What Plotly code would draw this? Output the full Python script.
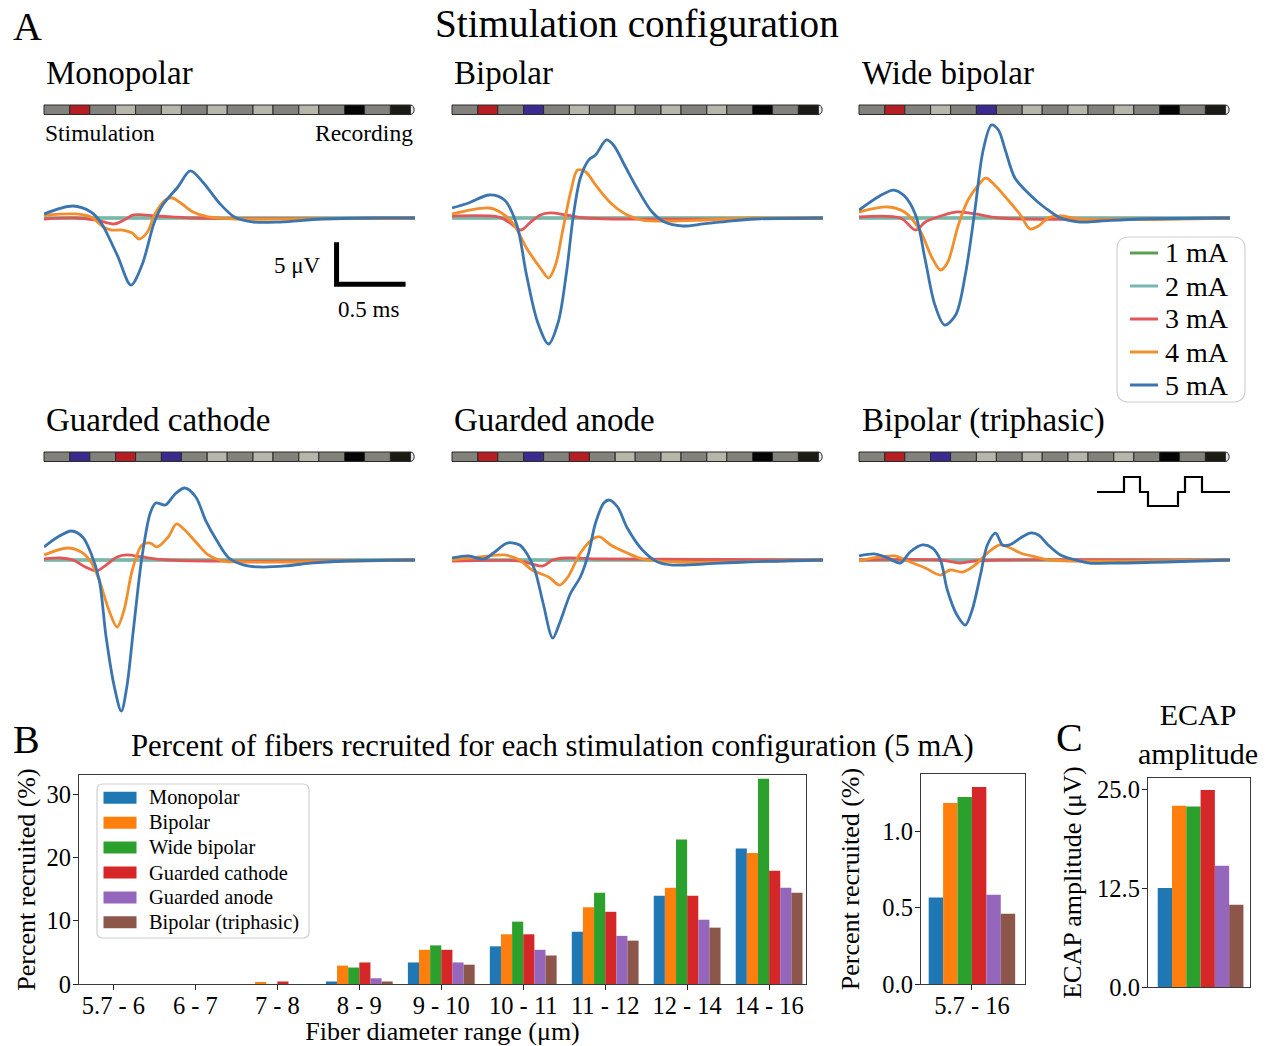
import plotly.graph_objects as go

W, H = 1270, 1046
FONT = "Liberation Serif"
INK = "#000000"

# ---------------- data ----------------
currents = ["1 mA", "2 mA", "3 mA", "4 mA", "5 mA"]
current_colors = ["#59a14f", "#76b7b2", "#e15759", "#f28e2b", "#3b75af"]

configs = ["Monopolar", "Bipolar", "Wide bipolar", "Guarded cathode", "Guarded anode", "Bipolar (triphasic)"]

# 1 mA and 2 mA produce no response (flat)
flat_t = [0.0, 2.69]
flat_v = [0.0, 0.0]

# time in ms, amplitude in uV
mono_3_t = [0.00, 0.23, 0.38, 0.51, 0.58, 0.65, 0.82, 1.08, 2.69]
mono_3_v = [-0.12, 0.00, -0.24, -0.71, -0.24, 0.36, 0.24, 0.00, 0.00]
mono_4_t = [0.00, 0.23, 0.34, 0.43, 0.49, 0.57, 0.64, 0.69, 0.75, 0.80, 0.88, 0.93, 0.99, 1.08, 1.19, 1.38, 1.82, 2.69]
mono_4_v = [0.36, 0.48, 0.12, -1.07, -1.43, -1.43, -1.79, -2.50, -1.67, 0.36, 2.14, 2.38, 1.79, 0.71, 0.12, -0.12, -0.12, 0.00]
mono_5_t = [0.00, 0.21, 0.34, 0.41, 0.53, 0.63, 0.71, 0.80, 0.86, 0.97, 1.06, 1.15, 1.27, 1.38, 1.52, 1.71, 2.01, 2.38, 2.69]
mono_5_v = [0.48, 1.43, 0.71, -0.48, -4.40, -7.98, -5.60, -0.48, 1.55, 3.69, 5.60, 4.29, 1.79, 0.12, -0.48, -0.48, -0.12, 0.00, 0.00]

bip_3_t = [0.00, 0.34, 0.41, 0.50, 0.57, 0.64, 0.71, 0.83, 0.97, 2.69]
bip_3_v = [0.24, 0.12, -0.48, -1.43, -0.48, 0.36, 0.60, 0.36, 0.00, 0.00]
bip_4_t = [0.00, 0.27, 0.36, 0.45, 0.54, 0.64, 0.70, 0.75, 0.80, 0.86, 0.91, 0.97, 1.04, 1.15, 1.27, 1.38, 1.57, 1.82, 2.19, 2.69]
bip_4_v = [0.48, 1.19, 0.60, -0.83, -3.57, -5.95, -7.14, -5.60, -1.67, 3.10, 5.71, 5.48, 3.93, 1.79, 0.36, -0.24, -0.36, -0.24, 0.00, 0.00]
bip_5_t = [0.00, 0.12, 0.27, 0.38, 0.47, 0.54, 0.62, 0.70, 0.77, 0.83, 0.88, 0.93, 0.99, 1.04, 1.12, 1.17, 1.25, 1.34, 1.45, 1.54, 1.67, 1.82, 2.01, 2.19, 2.69]
bip_5_v = [1.19, 1.79, 2.74, 2.14, -0.83, -6.79, -12.38, -15.00, -12.38, -6.43, 0.36, 4.76, 6.90, 7.50, 9.29, 8.69, 6.31, 3.57, 0.71, -0.48, -0.95, -0.71, -0.36, -0.12, 0.00]

wide_3_t = [0.00, 0.30, 0.41, 0.48, 0.55, 0.70, 0.84, 1.02, 2.69]
wide_3_v = [0.12, 0.00, -1.43, -0.48, 0.00, 0.71, 0.48, 0.00, 0.00]
wide_4_t = [0.00, 0.21, 0.33, 0.44, 0.53, 0.59, 0.64, 0.72, 0.79, 0.86, 0.92, 0.99, 1.08, 1.17, 1.24, 1.30, 1.37, 1.46, 1.60, 2.69]
wide_4_v = [0.71, 1.31, 0.71, -1.43, -4.76, -6.19, -5.36, -0.83, 2.14, 3.81, 4.76, 3.81, 2.14, 0.36, -1.31, -0.95, 0.00, 0.24, -0.12, 0.00]
wide_5_t = [0.00, 0.15, 0.25, 0.33, 0.41, 0.48, 0.55, 0.62, 0.70, 0.77, 0.84, 0.90, 0.96, 1.01, 1.06, 1.13, 1.24, 1.35, 1.46, 1.60, 1.75, 2.04, 2.69]
wide_5_v = [0.95, 2.62, 3.33, 2.62, 0.36, -5.00, -10.36, -12.74, -11.55, -6.79, 0.95, 8.10, 11.07, 10.48, 8.10, 4.76, 2.74, 1.19, 0.00, -0.48, -0.36, -0.12, 0.00]

gc_3_t = [0.00, 0.12, 0.21, 0.30, 0.38, 0.45, 0.53, 0.60, 0.71, 0.90, 2.69]
gc_3_v = [0.12, 0.24, 0.00, -0.83, -1.31, -0.60, 0.36, 0.60, 0.36, 0.00, 0.00]
gc_4_t = [0.00, 0.17, 0.27, 0.34, 0.40, 0.47, 0.53, 0.58, 0.64, 0.71, 0.77, 0.82, 0.90, 0.96, 1.02, 1.10, 1.19, 1.30, 1.45, 1.82, 2.69]
gc_4_v = [0.60, 1.43, 0.95, -0.24, -2.38, -5.95, -7.98, -5.95, -1.19, 1.79, 2.02, 1.55, 2.74, 4.29, 3.57, 2.14, 0.60, -0.12, -0.24, -0.24, 0.00]
gc_5_t = [0.00, 0.10, 0.20, 0.28, 0.34, 0.40, 0.45, 0.51, 0.56, 0.60, 0.65, 0.71, 0.77, 0.81, 0.88, 0.95, 1.02, 1.10, 1.17, 1.25, 1.34, 1.45, 1.56, 1.75, 1.93, 2.19, 2.69]
gc_5_v = [1.55, 2.74, 3.45, 2.74, 0.83, -2.38, -9.17, -15.12, -17.98, -15.12, -7.98, 0.36, 5.60, 6.79, 6.55, 7.86, 8.57, 7.50, 4.76, 2.38, 0.24, -0.60, -0.83, -0.71, -0.36, -0.12, 0.00]

ga_3_t = [0.00, 0.49, 0.58, 0.66, 0.73, 0.83, 1.08, 2.69]
ga_3_v = [-0.12, -0.12, -0.48, -0.71, 0.00, 0.24, 0.12, 0.00]
ga_4_t = [0.00, 0.20, 0.38, 0.49, 0.58, 0.70, 0.78, 0.84, 0.93, 1.03, 1.07, 1.15, 1.27, 1.38, 1.64, 2.69]
ga_4_v = [0.00, 0.36, 0.60, 0.00, -1.19, -2.02, -2.98, -2.02, 0.83, 2.62, 2.74, 1.79, 0.83, 0.12, -0.24, 0.00]
ga_5_t = [0.00, 0.12, 0.23, 0.30, 0.40, 0.49, 0.54, 0.60, 0.66, 0.73, 0.78, 0.86, 0.93, 0.99, 1.04, 1.10, 1.14, 1.20, 1.27, 1.38, 1.49, 1.60, 1.82, 2.12, 2.69]
ga_5_v = [0.24, 0.48, 0.12, 0.83, 2.02, 1.79, 0.83, -1.19, -5.12, -9.29, -7.50, -3.93, -2.02, 0.83, 4.40, 6.79, 7.14, 6.31, 3.81, 1.19, -0.24, -0.60, -0.48, -0.24, 0.00]

tri_3_t = [0.00, 0.59, 0.73, 0.84, 1.02, 2.69]
tri_3_v = [0.00, 0.00, -0.36, -0.12, 0.00, 0.00]
tri_4_t = [0.00, 0.15, 0.26, 0.37, 0.48, 0.59, 0.66, 0.75, 0.84, 0.93, 1.02, 1.08, 1.17, 1.28, 1.38, 2.69]
tri_4_v = [-0.12, 0.36, 0.48, -0.24, -0.95, -1.79, -1.19, -1.43, -0.60, 0.83, 1.79, 1.55, 0.83, 0.36, 0.00, 0.00]
tri_5_t = [0.00, 0.12, 0.21, 0.30, 0.37, 0.46, 0.53, 0.59, 0.64, 0.71, 0.77, 0.82, 0.88, 0.93, 0.99, 1.04, 1.09, 1.17, 1.24, 1.30, 1.37, 1.46, 1.57, 1.67, 1.89, 2.69]
tri_5_v = [0.48, 0.71, 0.24, -0.36, 0.95, 1.79, 1.43, 0.00, -3.57, -6.55, -7.74, -5.95, -1.79, 1.79, 3.21, 1.79, 1.79, 2.62, 3.21, 2.98, 1.79, 0.60, 0.00, -0.36, -0.36, 0.00]

# scale bar lengths
scale_ms = 0.5
scale_uv = 5.0

# Panel B: percent recruited per fiber diameter range (5 mA)
diam_ranges = ["5.7 - 6", "6 - 7", "7 - 8", "8 - 9", "9 - 10", "10 - 11", "11 - 12", "12 - 14", "14 - 16"]
pct_monopolar = [0, 0, 0, 0.4, 3.4, 5.95, 8.25, 13.95, 21.4]
pct_bipolar = [0, 0, 0.2, 2.9, 5.4, 7.85, 12.1, 15.2, 20.7]
pct_wide = [0, 0, 0, 2.6, 6.1, 9.85, 14.4, 22.8, 32.4]
pct_gcath = [0, 0, 0.4, 3.4, 5.4, 7.85, 11.4, 13.95, 17.9]
pct_ganode = [0, 0, 0, 0.9, 3.4, 5.4, 7.6, 10.15, 15.2]
pct_triph = [0, 0, 0, 0.4, 3.05, 4.5, 6.85, 8.9, 14.4]

total_label = ["5.7 - 16"]
pct_total = [0.569, 1.189, 1.229, 1.295, 0.587, 0.462]

# Panel C: ECAP amplitude (uV)
ecap_amp = [12.5, 22.9, 22.8, 24.9, 15.3, 10.4]

bar_colors = ["#1f77b4", "#ff7f0e", "#2ca02c", "#d62728", "#9467bd", "#8c564b"]

# electrode contact roles per configuration (contact index -> role)
roles_mono = {0: "cathode"}
roles_bip = {0: "cathode", 1: "anode"}
roles_wide = {0: "cathode", 2: "anode"}
roles_gc = {0: "anode", 1: "cathode", 2: "anode"}
roles_ga = {0: "cathode", 1: "anode", 2: "cathode"}
roles_tri = {0: "cathode", 1: "anode"}

# ---------------- figure ----------------
def X(p):
    return p / W


def Y(p):
    return 1 - p / H


waves = {
    "Monopolar": [(mono_3_t, mono_3_v), (mono_4_t, mono_4_v), (mono_5_t, mono_5_v)],
    "Bipolar": [(bip_3_t, bip_3_v), (bip_4_t, bip_4_v), (bip_5_t, bip_5_v)],
    "Wide bipolar": [(wide_3_t, wide_3_v), (wide_4_t, wide_4_v), (wide_5_t, wide_5_v)],
    "Guarded cathode": [(gc_3_t, gc_3_v), (gc_4_t, gc_4_v), (gc_5_t, gc_5_v)],
    "Guarded anode": [(ga_3_t, ga_3_v), (ga_4_t, ga_4_v), (ga_5_t, ga_5_v)],
    "Bipolar (triphasic)": [(tri_3_t, tri_3_v), (tri_4_t, tri_4_v), (tri_5_t, tri_5_v)],
}
roles = [roles_mono, roles_bip, roles_wide, roles_gc, roles_ga, roles_tri]

MS_PX = 138.0
UV_PX = 8.4
col_px = [(44, 415), (452, 823), (859, 1230)]
row_px = [(118, 352, 218), (470, 720, 560)]

fig = go.Figure()
layout = dict(
    width=W, height=H, margin=dict(l=0, r=0, t=0, b=0),
    paper_bgcolor="white", plot_bgcolor="rgba(0,0,0,0)",
    font=dict(family=FONT, color=INK, size=24),
    barmode="group", bargap=0.185, bargroupgap=0,
    hovermode=False, showlegend=False,
)

for i, cfg in enumerate(configs):
    r, c = divmod(i, 3)
    n = i + 1
    sfx = "" if n == 1 else str(n)
    x0, x1 = col_px[c]
    ytop, ybot, base = row_px[r]
    layout["xaxis" + sfx] = dict(domain=[X(x0), X(x1)], range=[0, (x1 - x0) / MS_PX],
                                 visible=False, anchor="y" + sfx)
    layout["yaxis" + sfx] = dict(domain=[Y(ybot), Y(ytop)],
                                 range=[-(ybot - base) / UV_PX, (base - ytop) / UV_PX],
                                 visible=False, anchor="x" + sfx)
    for k, cur in enumerate(currents):
        if k < 2:
            t, v = flat_t, flat_v
        else:
            t, v = waves[cfg][k - 2]
        fig.add_trace(go.Scatter(
            x=t, y=v, mode="lines", name=cur,
            line=dict(color=current_colors[k], width=2.8, shape="spline", smoothing=0.9),
            xaxis="x" + sfx, yaxis="y" + sfx,
        ))

# scale bar in the monopolar panel (data units)
sb_t0 = 2.12
sb_v0 = -7.9
fig.add_trace(go.Scatter(
    x=[sb_t0 + scale_ms, sb_t0, sb_t0], y=[sb_v0, sb_v0, sb_v0 + scale_uv],
    mode="lines", line=dict(color="black", width=5),
    xaxis="x", yaxis="y",
))

TF = dict(size=24.5, family=FONT, color=INK)
axis_common = dict(showgrid=False, zeroline=False, showline=True, mirror=True,
                   linecolor="#3a3a3a", linewidth=1.3, ticks="outside", ticklen=5,
                   tickwidth=1.3, tickcolor="#222", tickfont=TF, automargin=False)

# Panel B main
layout["xaxis7"] = dict(axis_common, domain=[X(79), X(806)], range=[-0.42, 8.45], anchor="y7",
                        type="category", ticklabelstandoff=-6,
                        title=dict(text="Fiber diameter range (μm)", font=dict(size=26, family=FONT, color=INK), standoff=9))
layout["yaxis7"] = dict(axis_common, domain=[Y(984), Y(775)], range=[0, 33.0], anchor="x7",
                        tickvals=[0, 10, 20, 30], ticklabelstandoff=-3,
                        title=dict(text="Percent recruited (%)", font=dict(size=26, family=FONT, color=INK), standoff=3))
# Panel B inset
layout["xaxis8"] = dict(axis_common, domain=[X(921), X(1025)], range=[-0.48, 0.5], anchor="y8",
                        type="category", ticklabelstandoff=-6)
layout["yaxis8"] = dict(axis_common, domain=[Y(984), Y(774)], range=[0, 1.38], anchor="x8",
                        tickvals=[0, 0.5, 1.0], ticktext=["0.0", "0.5", "1.0"], ticklabelstandoff=-3,
                        title=dict(text="Percent recruited (%)", font=dict(size=26, family=FONT, color=INK), standoff=15))
# Panel C
layout["xaxis9"] = dict(axis_common, domain=[X(1148), X(1250)], range=[-0.5, 0.47], anchor="y9",
                        type="category", ticks="", showticklabels=False)
layout["yaxis9"] = dict(axis_common, domain=[Y(987), Y(778)], range=[0, 26.4], anchor="x9",
                        tickvals=[0, 12.5, 25], ticktext=["0.0", "12.5", "25.0"], ticklabelstandoff=-3,
                        title=dict(text="ECAP amplitude (μV)", font=dict(size=26, family=FONT, color=INK), standoff=7))

pct_all = [pct_monopolar, pct_bipolar, pct_wide, pct_gcath, pct_ganode, pct_triph]
for j, cfg in enumerate(configs):
    fig.add_trace(go.Bar(x=diam_ranges, y=pct_all[j], name=cfg, marker=dict(color=bar_colors[j], line=dict(width=0)),
                         xaxis="x7", yaxis="y7"))
for j, cfg in enumerate(configs):
    fig.add_trace(go.Bar(x=total_label, y=[pct_total[j]], name=cfg, marker=dict(color=bar_colors[j], line=dict(width=0)),
                         xaxis="x8", yaxis="y8"))
for j, cfg in enumerate(configs):
    fig.add_trace(go.Bar(x=["ECAP"], y=[ecap_amp[j]], name=cfg, marker=dict(color=bar_colors[j], line=dict(width=0)),
                         xaxis="x9", yaxis="y9"))

# ---------------- shapes ----------------
shapes = []
anns = []


def ann(text, x, y, size, xanchor="left", yanchor="middle"):
    anns.append(dict(text=text, x=X(x), y=Y(y), xref="paper", yref="paper", showarrow=False,
                     xanchor=xanchor, yanchor=yanchor, font=dict(size=size, family=FONT, color=INK)))


def rounded_box(x0, y0, x1, y1, rad, line_color):
    pts = (f"M{X(x0 + rad)},{Y(y0)} L{X(x1 - rad)},{Y(y0)} Q{X(x1)},{Y(y0)} {X(x1)},{Y(y0 + rad)} "
           f"L{X(x1)},{Y(y1 - rad)} Q{X(x1)},{Y(y1)} {X(x1 - rad)},{Y(y1)} "
           f"L{X(x0 + rad)},{Y(y1)} Q{X(x0)},{Y(y1)} {X(x0)},{Y(y1 - rad)} "
           f"L{X(x0)},{Y(y0 + rad)} Q{X(x0)},{Y(y0)} {X(x0 + rad)},{Y(y0)} Z")
    return dict(type="path", path=pts, xref="paper", yref="paper", layer="above",
                fillcolor="rgba(255,255,255,0.85)", line=dict(color=line_color, width=1.2))


# legend for panel A (current amplitudes)
shapes.append(rounded_box(1117, 237, 1245, 402, 12, "#d0d0d0"))
for k, cur in enumerate(currents):
    yy = 253 + 33 * k
    shapes.append(dict(type="line", xref="paper", yref="paper", layer="above",
                       x0=X(1130), x1=X(1158), y0=Y(yy), y1=Y(yy),
                       line=dict(color=current_colors[k], width=3)))
    ann(cur, 1163, yy, 28)

# legend for panel B (configurations)
shapes.append(rounded_box(97, 784, 309, 938, 6, "#d0d0d0"))
for j, cfg in enumerate(configs):
    yy = 797.8 + 24.9 * j
    shapes.append(dict(type="rect", xref="paper", yref="paper", layer="above",
                       x0=X(103.5), x1=X(136.5), y0=Y(yy + 6), y1=Y(yy - 6),
                       fillcolor=bar_colors[j], line=dict(width=0)))
    ann(cfg, 147, yy, 20.4)

INS_W, CON_W = 25.8, 20.0
bar_rows = [(105, 114.5), (452, 461.5)]
role_col = {"cathode": "#b51f24", "anode": "#3b2b8e"}
for i in range(6):
    r, c = divmod(i, 3)
    xs = col_px[c][0]
    yt, yb = bar_rows[r]
    x = xs
    for k in range(8):
        shapes.append(dict(type="rect", xref="paper", yref="paper", x0=X(x), x1=X(x + INS_W), y0=Y(yb), y1=Y(yt),
                           fillcolor="#82817b", line=dict(color="#2a2a2a", width=1)))
        x += INS_W
        if k == 6:
            col = "#050505"
        elif k == 7:
            col = "#1b1a14"
        else:
            col = role_col.get(roles[i].get(k), "#b7b6aa")
        shapes.append(dict(type="rect", xref="paper", yref="paper", x0=X(x), x1=X(x + CON_W), y0=Y(yb), y1=Y(yt),
                           fillcolor=col, line=dict(color="#2a2a2a", width=1)))
        x += CON_W
    shapes.append(dict(type="path", xref="paper", yref="paper",
                       path=f"M{X(x)},{Y(yt)} C{X(x + 5)},{Y(yt)} {X(x + 5)},{Y(yb)} {X(x)},{Y(yb)} Z",
                       fillcolor="#e6e6e6", line=dict(color="#2a2a2a", width=1)))

# triphasic pulse icon
tri_pts = [(1097, 492), (1124, 492), (1124, 477), (1140, 477), (1140, 492), (1148, 492), (1148, 506),
           (1178, 506), (1178, 492), (1185, 492), (1185, 477), (1202, 477), (1202, 492), (1230, 492)]
tri_path = "M" + " L".join(f"{X(a)},{Y(b)}" for a, b in tri_pts)
shapes.append(dict(type="path", xref="paper", yref="paper", path=tri_path,
                   line=dict(color="black", width=2.2)))

layout["shapes"] = shapes

# ---------------- annotations ----------------
ann("A", 11, 26, 40)
ann("Stimulation configuration", 637, 24, 39.2, xanchor="center")
title_pos = [(44, 73), (452, 73), (860, 73), (44, 420), (452, 420), (860, 420)]
for cfg, (tx, ty) in zip(configs, title_pos):
    ann(cfg, tx, ty, 33)
ann("Stimulation", 43, 133, 23.5)
ann("Recording", 415, 133, 23.5, xanchor="right")
ann("5 μV", 323, 266, 23)
anns[-1]["xanchor"] = "right"
ann("0.5 ms", 368, 309, 23, xanchor="center")
ann("B", 11, 739, 40)
ann("Percent of fibers recruited for each stimulation configuration (5 mA)", 552, 746, 30.7, xanchor="center")
ann("C", 1054, 737, 40)
ann("ECAP<br>amplitude", 1198, 734, 30, xanchor="center")
layout["annotations"] = anns

fig.update_layout(**layout)
fig.write_html("out.html")
